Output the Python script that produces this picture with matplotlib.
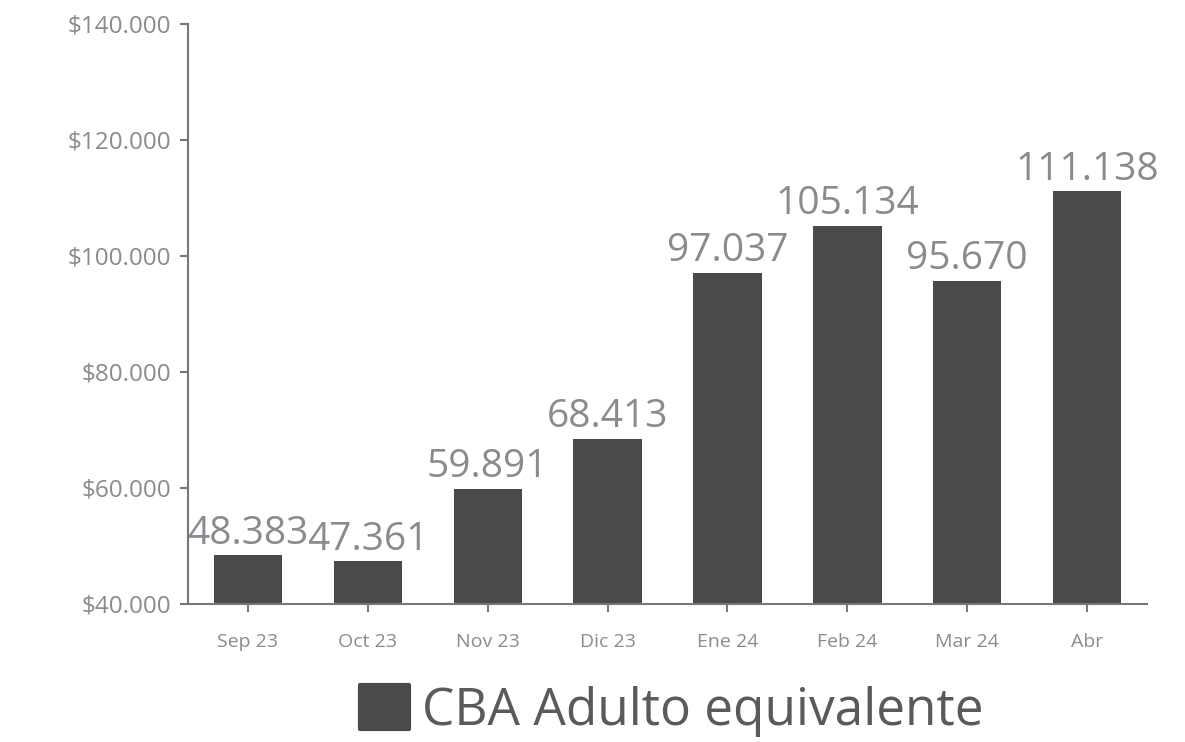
import matplotlib.pyplot as plt
from matplotlib.ticker import FuncFormatter

plt.rcParams['font.family'] = ['Open Sans', 'DejaVu Sans']

meses = ['Sep 23', 'Oct 23', 'Nov 23', 'Dic 23', 'Ene 24', 'Feb 24', 'Mar 24', 'Abr']
cba = [48383, 47361, 59891, 68413, 97037, 105134, 95670, 111138]

bar_color = '#4a4a4a'
text_color = '#8a8a90'
axis_color = '#777777'

fig = plt.figure(figsize=(11.85, 7.42), dpi=100)
ax = fig.add_axes([0.1586, 0.186, 0.8094, 0.7817])

x = range(len(meses))
bars = ax.bar(x, cba, width=0.57, color=bar_color, label='CBA Adulto equivalente')

labels = [f'{v:,}'.replace(',', '.') for v in cba]
ax.bar_label(bars, labels=labels, padding=2, fontsize=28, color=text_color)

ax.set_xlim(-0.5, len(meses) - 0.5)
ax.set_ylim(40000, 140000)
ax.set_yticks(range(40000, 140001, 20000))
ax.yaxis.set_major_formatter(FuncFormatter(lambda v, p: '$' + f'{int(v):,}'.replace(',', '.')))
ax.set_xticks(list(x))
ax.set_xticklabels(meses)

ax.tick_params(axis='y', labelsize=17.5, colors=axis_color, labelcolor=text_color, length=6, width=1.5, pad=6)
ax.tick_params(axis='x', labelsize=14, colors=axis_color, labelcolor=text_color, length=6, width=1.5, pad=15)

for side in ['top', 'right']:
    ax.spines[side].set_visible(False)
for side in ['left', 'bottom']:
    ax.spines[side].set_color(axis_color)
    ax.spines[side].set_linewidth(1.5)

leg = fig.legend(handles=[bars], labels=['CBA Adulto equivalente'], loc='center',
                 bbox_to_anchor=(672 / 1185, 1 - 711 / 742), frameon=False,
                 fontsize=37, labelcolor='#5a5a5a', handlelength=0.95, handleheight=0.95,
                 handletextpad=0.25)
for h in leg.legend_handles:
    h.set_joinstyle('round')
    h.set_edgecolor(bar_color)
    h.set_linewidth(3)

fig.savefig('out.png', dpi=100)
